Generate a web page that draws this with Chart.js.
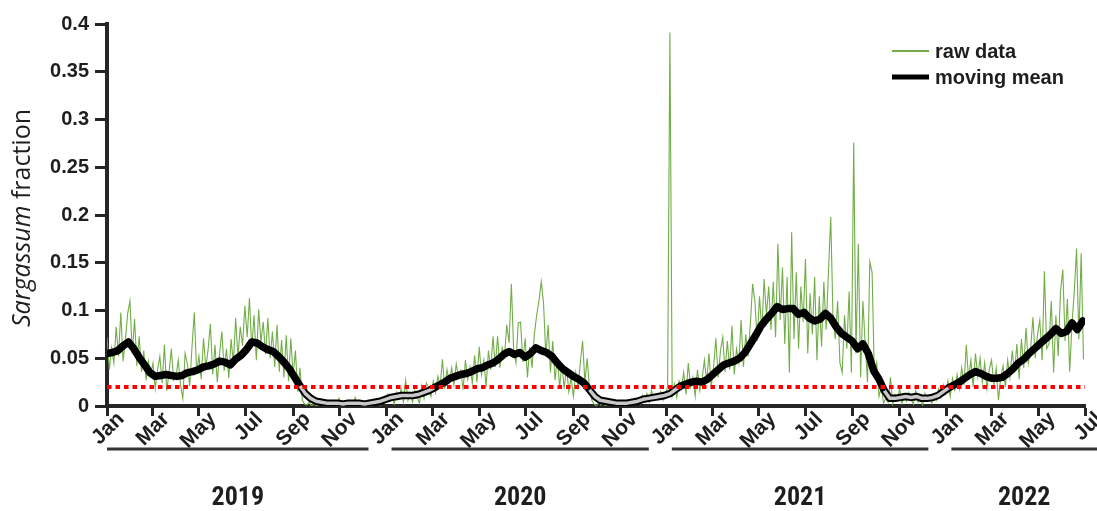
<!DOCTYPE html>
<html>
<head>
<meta charset="utf-8">
<script src="https://cdn.jsdelivr.net/npm/chart.js@4.4.1/dist/chart.umd.min.js"></script>
<style>
  html, body { margin: 0; padding: 0; background: #ffffff; }
  #wrap { width: 1097px; height: 511px; position: relative; }
</style>
</head>
<body>
<div id="wrap"><canvas id="chart" width="1097" height="511"></canvas></div>
<script>
// Daily Sargassum fraction, sampled every 3 days from 1 Jan 2019
const rawStepDays = 3;
const rawValues = [
  0.072, 0.038, 0.061, 0.045, 0.083, 0.052, 0.098, 0.047, 0.069, 0.097,
  0.110, 0.055, 0.091, 0.042, 0.073, 0.036, 0.058, 0.027, 0.047, 0.033,
  0.045, 0.018, 0.038, 0.052, 0.024, 0.064, 0.016, 0.035, 0.060, 0.027,
  0.030, 0.048, 0.022, 0.008, 0.055, 0.044, 0.021, 0.062, 0.098, 0.035,
  0.052, 0.028, 0.071, 0.040, 0.059, 0.086, 0.033, 0.064, 0.025, 0.055,
  0.078, 0.037, 0.060, 0.029, 0.070, 0.045, 0.092, 0.051, 0.083, 0.063,
  0.105, 0.072, 0.113, 0.060, 0.095, 0.048, 0.101, 0.067, 0.088, 0.054,
  0.092, 0.050, 0.078, 0.041, 0.085, 0.036, 0.069, 0.030, 0.074, 0.026,
  0.071, 0.032, 0.058, 0.015, 0.040, 0.006, 0.002, 0.001, 0.004, 0.000,
  0.002, 0.000, 0.001, 0.003, 0.000, 0.002, 0.001, 0.000, 0.004, 0.001,
  0.000, 0.008, 0.001, 0.003, 0.000, 0.002, 0.001, 0.000, 0.009, 0.001,
  0.002, 0.000, 0.004, 0.001, 0.006, 0.002, 0.000, 0.005, 0.003, 0.001,
  0.008, 0.003, 0.012, 0.005, 0.010, 0.002, 0.014, 0.007, 0.018, 0.004,
  0.027, 0.006, 0.013, 0.004, 0.016, 0.009, 0.003, 0.021, 0.008, 0.024,
  0.019, 0.010, 0.026, 0.014, 0.031, 0.022, 0.049, 0.018, 0.038, 0.025,
  0.040, 0.022, 0.044, 0.030, 0.037, 0.017, 0.048, 0.028, 0.041, 0.024,
  0.053, 0.025, 0.062, 0.033, 0.048, 0.020, 0.058, 0.038, 0.073, 0.041,
  0.073, 0.040, 0.061, 0.052, 0.085, 0.066, 0.128, 0.058, 0.045, 0.087,
  0.088, 0.046, 0.071, 0.030, 0.062, 0.040, 0.075, 0.095, 0.110, 0.130,
  0.108, 0.052, 0.085, 0.035, 0.068, 0.027, 0.050, 0.020, 0.044, 0.018,
  0.041, 0.015, 0.030, 0.010, 0.035, 0.020, 0.045, 0.068, 0.025, 0.050,
  0.018, 0.006, 0.002, 0.000, 0.004, 0.001, 0.003, 0.000, 0.002, 0.001,
  0.000, 0.002, 0.001, 0.000, 0.003, 0.001, 0.000, 0.002, 0.004, 0.001,
  0.003, 0.008, 0.002, 0.011, 0.005, 0.013, 0.004, 0.016, 0.007, 0.010,
  0.008, 0.015, 0.006, 0.012, 0.020, 0.391, 0.011, 0.023, 0.009, 0.026,
  0.018, 0.035, 0.012, 0.045, 0.020, 0.030, 0.010, 0.038, 0.016, 0.028,
  0.048, 0.025, 0.055, 0.020, 0.040, 0.071, 0.030, 0.058, 0.072, 0.036,
  0.068, 0.038, 0.084, 0.033, 0.060, 0.045, 0.090, 0.041, 0.075, 0.052,
  0.085, 0.128, 0.109, 0.068, 0.115, 0.078, 0.133, 0.095, 0.125, 0.080,
  0.130, 0.072, 0.170, 0.090, 0.145, 0.065, 0.135, 0.035, 0.182, 0.070,
  0.140, 0.060, 0.125, 0.088, 0.154, 0.055, 0.118, 0.075, 0.135, 0.048,
  0.115, 0.062, 0.130, 0.080, 0.140, 0.198, 0.090, 0.070, 0.110, 0.045,
  0.035, 0.095, 0.060, 0.120, 0.035, 0.276, 0.055, 0.170, 0.030, 0.110,
  0.065, 0.025, 0.151, 0.140, 0.030, 0.045, 0.010, 0.020, 0.003, 0.008,
  0.004, 0.030, 0.002, 0.012, 0.006, 0.018, 0.003, 0.010, 0.005, 0.014,
  0.007, 0.002, 0.016, 0.004, 0.009, 0.001, 0.013, 0.005, 0.008, 0.003,
  0.011, 0.006, 0.018, 0.009, 0.022, 0.013, 0.026, 0.010, 0.029, 0.017,
  0.033, 0.018, 0.040, 0.022, 0.064, 0.028, 0.048, 0.020, 0.055, 0.031,
  0.050, 0.025, 0.045, 0.018, 0.038, 0.048, 0.022, 0.040, 0.006, 0.030,
  0.042, 0.020, 0.048, 0.030, 0.058, 0.035, 0.065, 0.028, 0.070, 0.040,
  0.082, 0.045, 0.060, 0.093, 0.050, 0.075, 0.090, 0.048, 0.141, 0.060,
  0.065, 0.110, 0.035, 0.095, 0.052, 0.120, 0.143, 0.068, 0.112, 0.036,
  0.085, 0.120, 0.165, 0.070, 0.160, 0.049
];

// Moving mean, sampled weekly from 1 Jan 2019
const meanStepDays = 7;
const meanValues = [
  0.055, 0.056, 0.058, 0.063, 0.067, 0.060, 0.051, 0.043, 0.035, 0.031,
  0.032, 0.033, 0.032, 0.031, 0.032, 0.035, 0.036, 0.038, 0.041, 0.042,
  0.044, 0.047, 0.046, 0.043, 0.049, 0.053, 0.059, 0.067, 0.066, 0.062,
  0.059, 0.057, 0.052, 0.046, 0.039, 0.030, 0.021, 0.013, 0.008, 0.005,
  0.004, 0.003, 0.003, 0.003, 0.002, 0.003, 0.003, 0.003, 0.002, 0.003,
  0.004, 0.005, 0.007, 0.009, 0.010, 0.011, 0.011, 0.011, 0.012, 0.014,
  0.016, 0.019, 0.022, 0.025, 0.029, 0.031, 0.033, 0.034, 0.036, 0.039,
  0.040, 0.043, 0.045, 0.049, 0.054, 0.057, 0.054, 0.056, 0.051, 0.055,
  0.061, 0.058, 0.056, 0.052, 0.045, 0.039, 0.035, 0.031, 0.028, 0.024,
  0.017, 0.010, 0.006, 0.005, 0.004, 0.003, 0.003, 0.003, 0.004, 0.005,
  0.007, 0.008, 0.009, 0.010, 0.011, 0.013, 0.017, 0.021, 0.023, 0.025,
  0.026, 0.025, 0.028, 0.033, 0.038, 0.043, 0.045, 0.047, 0.050, 0.056,
  0.065, 0.074, 0.084, 0.091, 0.097, 0.104, 0.101, 0.102, 0.102, 0.096,
  0.098, 0.092, 0.089, 0.091, 0.097, 0.092, 0.083, 0.076, 0.072, 0.068,
  0.060, 0.065, 0.055, 0.037, 0.028, 0.016, 0.008, 0.008, 0.009, 0.010,
  0.009, 0.010, 0.008, 0.008, 0.009, 0.011, 0.015, 0.019, 0.022, 0.025,
  0.029, 0.033, 0.036, 0.034, 0.031, 0.029, 0.029, 0.030, 0.034, 0.039,
  0.045, 0.049, 0.055, 0.060, 0.065, 0.070, 0.075, 0.081, 0.076, 0.078,
  0.087, 0.080, 0.089
];

const thresholdValue = 0.02;

const xTickDates = [
  '2019-01-01', '2019-03-01', '2019-05-01', '2019-07-01', '2019-09-01', '2019-11-01',
  '2020-01-01', '2020-03-01', '2020-05-01', '2020-07-01', '2020-09-01', '2020-11-01',
  '2021-01-01', '2021-03-01', '2021-05-01', '2021-07-01', '2021-09-01', '2021-11-01',
  '2022-01-01', '2022-03-01', '2022-05-01', '2022-07-01'
];
const xTickLabels = [
  'Jan', 'Mar', 'May', 'Jul', 'Sep', 'Nov',
  'Jan', 'Mar', 'May', 'Jul', 'Sep', 'Nov',
  'Jan', 'Mar', 'May', 'Jul', 'Sep', 'Nov',
  'Jan', 'Mar', 'May', 'Jul'
];
const yTickLabels = ['0', '0.05', '0.1', '0.15', '0.2', '0.25', '0.3', '0.35', '0.4'];
const yearLabels = ['2019', '2020', '2021', '2022'];

// ---- helpers: dates as day offsets from 1 Jan 2019 ----
const ORIGIN = Date.UTC(2019, 0, 1);
const dayOffset = (iso) => (Date.parse(iso + 'T00:00:00Z') - ORIGIN) / 86400000;
const xTickDays = xTickDates.map(dayOffset);
const xMaxDay = xTickDays[xTickDays.length - 1];

const rawPoints = rawValues.map((v, i) => ({ x: i * rawStepDays, y: v }));
const meanPoints = meanValues.map((v, i) => ({ x: i * meanStepDays, y: v }));
const thresholdPoints = [{ x: 0, y: thresholdValue }, { x: xMaxDay, y: thresholdValue }];

const TEXT = '#1e1e1e';
const AXIS = '#262626';
const SANS = '"Liberation Sans", Arial, Helvetica, sans-serif';

// Year bars, year names, legend and the mixed-style axis title
const decorPlugin = {
  id: 'decor',
  afterDraw(chart) {
    const ctx = chart.ctx;
    const xs = chart.scales.x;
    const W = chart.width;

    // year bars under the month labels
    ctx.save();
    ctx.strokeStyle = '#333333';
    ctx.lineWidth = 3;
    ctx.fillStyle = TEXT;
    ctx.font = 'bold 26px "Liberation Sans Narrow", "Roboto Condensed", "Liberation Sans", sans-serif';
    ctx.textAlign = 'center';
    ctx.textBaseline = 'middle';
    yearLabels.forEach((yr, i) => {
      const y0 = Number(yr);
      const start = xs.getPixelForValue(dayOffset(y0 + '-01-01')) + (i === 0 ? 0 : 5);
      const end = xs.getPixelForValue(dayOffset((y0 + 1) + '-01-01')) - 18;
      const visEnd = Math.min(end, W);
      ctx.beginPath();
      ctx.moveTo(start, 449);
      ctx.lineTo(end, 449);
      ctx.stroke();
      ctx.fillText(yr, (start + visEnd) / 2, 498);
    });
    ctx.restore();

    // legend
    ctx.save();
    const ds = chart.data.datasets;
    const items = [
      { label: ds[0].label, color: ds[0].borderColor, width: 2, y: 51 },
      { label: ds[1].label, color: ds[1].borderColor, width: 5, y: 77 }
    ];
    ctx.font = 'bold 20px ' + SANS;
    ctx.textBaseline = 'middle';
    ctx.textAlign = 'left';
    items.forEach(it => {
      ctx.strokeStyle = it.color;
      ctx.lineWidth = it.width;
      ctx.beginPath();
      ctx.moveTo(892, it.y);
      ctx.lineTo(929, it.y);
      ctx.stroke();
      ctx.fillStyle = TEXT;
      ctx.fillText(it.label, 935, it.y + 1);
    });
    ctx.restore();

    // y-axis title: italic genus name + plain word
    ctx.save();
    ctx.translate(23, 218);
    ctx.rotate(-Math.PI / 2);
    ctx.fillStyle = TEXT;
    ctx.textBaseline = 'middle';
    ctx.textAlign = 'left';
    const fItal = 'italic 500 25px "Open Sans", sans-serif';
    const fNorm = '500 25px "Open Sans", sans-serif';
    const partA = 'Sargassum';
    const partB = ' fraction';
    ctx.font = fItal;
    const wA = ctx.measureText(partA).width;
    ctx.font = fNorm;
    const wB = ctx.measureText(partB).width;
    const x0 = -(wA + wB) / 2;
    ctx.font = fItal;
    ctx.fillText(partA, x0, 0);
    ctx.font = fNorm;
    ctx.fillText(partB, x0 + wA, 0);
    ctx.restore();
  }
};

new Chart(document.getElementById('chart'), {
  type: 'line',
  data: {
    datasets: [
      {
        label: 'raw data',
        data: rawPoints,
        borderColor: '#72ad48',
        borderWidth: 1.1,
        pointRadius: 0,
        tension: 0,
        order: 3
      },
      {
        label: 'moving mean',
        data: meanPoints,
        borderColor: '#000000',
        borderWidth: 7.5,
        borderJoinStyle: 'round',
        borderCapStyle: 'round',
        pointRadius: 0,
        tension: 0,
        order: 2
      },
      {
        label: 'moving mean (below threshold)',
        data: meanPoints,
        borderColor: '#c8c8c8',
        borderWidth: 3.5,
        borderJoinStyle: 'round',
        pointRadius: 0,
        tension: 0,
        order: 1,
        segment: {
          borderColor: c => ((c.p0.parsed.y + c.p1.parsed.y) / 2 < thresholdValue ? '#c8c8c8' : 'rgba(0,0,0,0)')
        }
      },
      {
        label: 'threshold',
        data: thresholdPoints,
        borderColor: '#ff0000',
        borderWidth: 4,
        borderDash: [4.5, 4],
        pointRadius: 0,
        order: 0
      }
    ]
  },
  options: {
    responsive: false,
    animation: false,
    devicePixelRatio: 1,
    layout: { padding: { left: 0, right: 12, top: 24, bottom: 0 } },
    plugins: {
      legend: { display: false },
      tooltip: { enabled: false }
    },
    scales: {
      x: {
        type: 'linear',
        min: 0,
        max: xMaxDay,
        afterFit(scale) { scale.height = 105; },
        afterBuildTicks(scale) { scale.ticks = xTickDays.map(v => ({ value: v })); },
        border: { display: true, color: AXIS, width: 4 },
        grid: { display: true, drawOnChartArea: false, drawTicks: true, tickLength: 10, tickWidth: 3, tickColor: AXIS },
        ticks: {
          autoSkip: false,
          minRotation: 45,
          maxRotation: 45,
          padding: -9,
          labelOffset: 14,
          color: TEXT,
          font: { family: SANS, size: 21, weight: 'bold' },
          callback: (v, i) => xTickLabels[i]
        }
      },
      y: {
        type: 'linear',
        min: 0,
        max: 0.4,
        afterFit(scale) { scale.width = 107; },
        afterBuildTicks(scale) { scale.ticks = yTickLabels.map(s => ({ value: Number(s) })); },
        border: { display: true, color: AXIS, width: 4 },
        grid: { display: true, drawOnChartArea: false, drawTicks: true, tickLength: 12, tickWidth: 3, tickColor: AXIS },
        ticks: {
          padding: 6,
          color: TEXT,
          font: { family: SANS, size: 20, weight: 'bold' },
          callback: (v, i) => yTickLabels[i]
        }
      }
    }
  },
  plugins: [decorPlugin]
});
</script>
</body>
</html>
